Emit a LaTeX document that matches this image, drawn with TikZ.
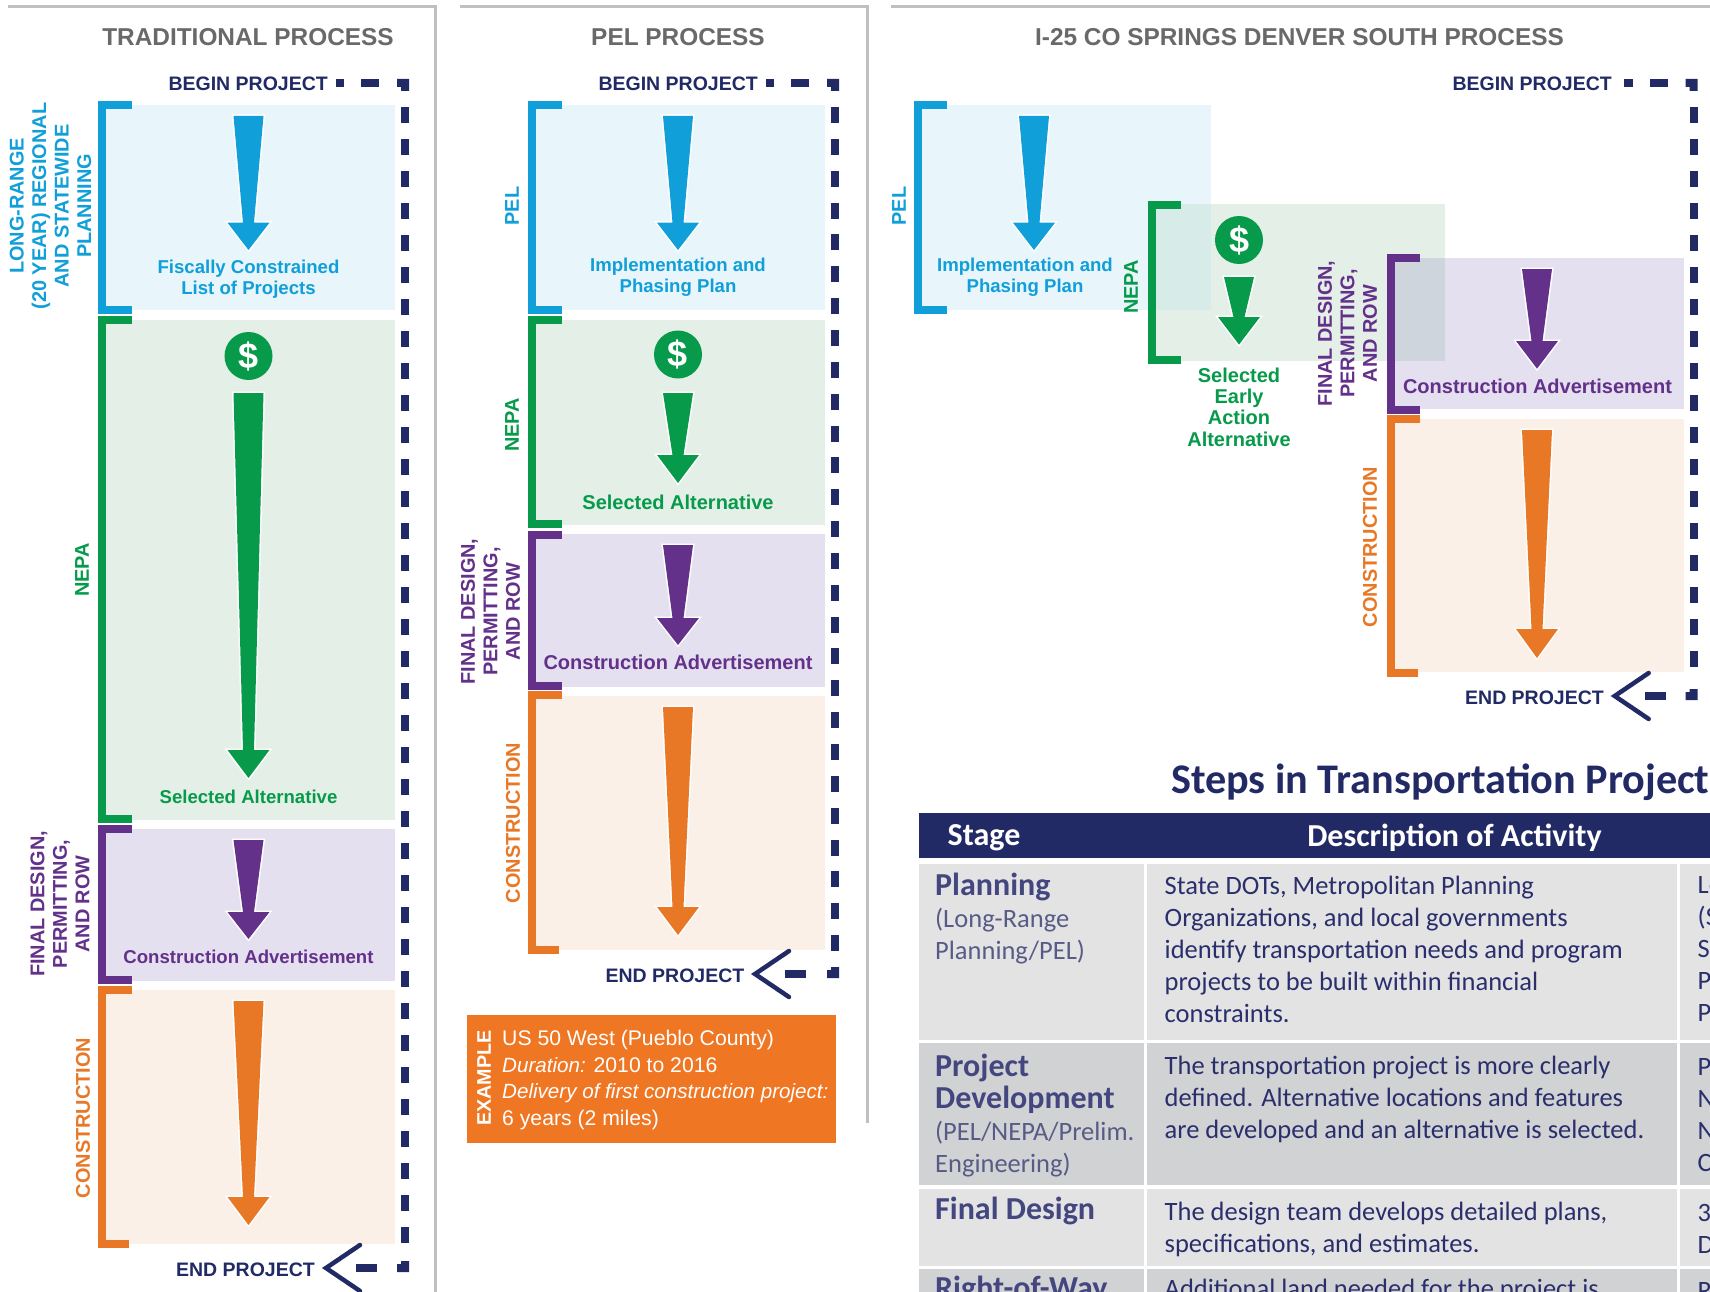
\documentclass[tikz,border=0pt]{standalone}
\usepackage{fontspec}
\setmainfont{Liberation Sans}
\newfontfamily\calib{Carlito}
\definecolor{cblue}{HTML}{109FD8}
\definecolor{cgreen}{HTML}{069A4A}
\definecolor{cpurple}{HTML}{63308A}
\definecolor{corange}{HTML}{E87826}
\definecolor{rblue}{HTML}{E8F5FB}
\definecolor{rgreen}{HTML}{E4F0E7}
\definecolor{rpurple}{HTML}{E4E0EF}
\definecolor{rorange}{HTML}{FAF0E7}
\definecolor{ovblue}{HTML}{D7ECE9}
\definecolor{ovpurple}{HTML}{CED5DD}
\definecolor{navy}{HTML}{222A66}
\definecolor{gtitle}{HTML}{696969}
\definecolor{gframe}{HTML}{C0C0C0}
\definecolor{boxor}{HTML}{EF7622}
\definecolor{rowa}{HTML}{E3E3E4}
\definecolor{rowb}{HTML}{D1D2D4}
\definecolor{ttitle}{HTML}{43467F}
\definecolor{tsub}{HTML}{585B86}
\definecolor{tbody}{HTML}{2A2F6C}
\tikzset{
  frameline/.style={gframe,line width=3},
  coltitle/.style={font=\bfseries\fontsize{24.4}{28}\selectfont,text=gtitle,inner sep=0},
  projlabel/.style={font=\bfseries\fontsize{19.5}{22}\selectfont,text=navy,inner sep=0},
  sidelabel/.style={font=\bfseries\fontsize{19.9}{22.5}\selectfont,rotate=90,align=center,inner sep=0},
  steplabel/.style={font=\bfseries\fontsize{18.6}{21.4}\selectfont,align=center,inner sep=0},
  steplabelwide/.style={font=\bfseries\fontsize{20}{21.4}\selectfont,align=center,inner sep=0},
  bracketline/.style={line width=8,miter limit=10},
  chevron/.style={navy,line width=4.5,line cap=round,miter limit=10},
  hdrtext/.style={font=\calib\bfseries\fontsize{32}{34}\selectfont,text=white,inner sep=0},
  stagename/.style={font=\calib\bfseries\fontsize{32}{32.5}\selectfont,text=ttitle,anchor=west,align=left,inner sep=0},
  stagesub/.style={font=\calib\fontsize{26.5}{32}\selectfont,text=tsub,anchor=west,align=left,inner sep=0},
  bodytext/.style={font=\calib\fontsize{26.5}{32}\selectfont,text=tbody,anchor=west,align=left,inner sep=0},
  boxtext/.style={font=\fontsize{21.2}{26.6}\selectfont,text=white,anchor=west,align=left,inner sep=0},
}
\newcommand{\boxital}[1]{{\fontsize{20.6}{26.6}\selectfont\itshape #1}}
% x1 y1 x2 y2 colour
\newcommand{\bandrect}[5]{\fill[#5] (#1,#2) rectangle (#3,#4);}
% x ytop ybot tabtop tabbot colour
\newcommand{\stagebracket}[6]{\draw[bracketline,#6] (#4,#2+4) -- (#1+4,#2+4) -- (#1+4,#3-4) -- (#5,#3-4);}
% x top base tip colour
\newcommand{\flowarrow}[5]{%
  \path[fill=#5,preaction={draw=white,line width=3,miter limit=10}]
   (#1-15,#2) -- (#1+15,#2) -- (#1+5.5,#3) -- (#1+21,#3) -- (#1,#4) -- (#1-21,#3) -- (#1-5.5,#3) -- cycle;}
% x y name
\newcommand{\dollarmark}[3]{\node[circle,fill=cgreen,minimum size=48,inner sep=0,text=white,font=\bfseries\fontsize{36}{36}\selectfont] (#3) at (#1,#2) {\$};}
% dx kmax period y
\newcommand{\projframe}[4]{%
  \fill[navy] (335.6+#1,79) rectangle (344+#1,87);
  \fill[navy] (361+#1,79) rectangle (379+#1,87);
  \fill[navy] (397+#1,79) -- (409+#1,79) -- (409+#1,91) -- (401+#1,91) -- (401+#1,87) -- (397+#1,87) -- cycle;
  \foreach \k in {0,...,#2} {\fill[navy] (401+#1,107+\k*#3) rectangle (409+#1,123+\k*#3);}
  \fill[navy] (401+#1,#4-7) -- (409+#1,#4-7) -- (409+#1,#4+4) -- (397+#1,#4+4) -- (397+#1,#4-4) -- (401+#1,#4-4) -- cycle;}
% tipx y name
\newcommand{\finishmark}[3]{%
  \coordinate (#3) at (#1+3,#2);
  \draw[chevron] (#1+37,#2-23) -- (#3) -- (#1+37,#2+23);
  \fill[navy] (#1+33,#2-4) rectangle (#1+54,#2+4);}
\begin{document}
\begin{tikzpicture}[x=1pt,y=-1pt]
\useasboundingbox (0,0) rectangle (1710,1292);
\clip (0,0) rectangle (1710,1292);
\fill[white] (0,0) rectangle (1710,1292);
% frames
\draw[frameline] (8,6.5) -- (435,6.5) -- (435,1292);
\draw[frameline] (460,6.5) -- (867,6.5) -- (867,1123);
\draw[frameline] (891,6.5) -- (1710,6.5);
% titles
\node[coltitle] (t1) at (248,37) {TRADITIONAL PROCESS};
\node[coltitle] (t2) at (678,37) {PEL PROCESS};
\node[coltitle] (t3) at (1299.5,37) {I-25 CO SPRINGS DENVER SOUTH PROCESS};
% ---------- column 1
\node[projlabel,anchor=east] (b1) at (328,83.5) {BEGIN PROJECT};
\projframe{0}{35}{32}{1268}
\bandrect{100}{105}{395}{310}{rblue}
\bandrect{100}{320}{395}{820}{rgreen}
\bandrect{100}{829}{395}{981}{rpurple}
\bandrect{100}{990}{395}{1244}{rorange}
\stagebracket{98.3}{101}{314}{131.7}{131.7}{cblue}
\stagebracket{98.3}{316}{823}{131.7}{131.7}{cgreen}
\stagebracket{98.3}{825}{984}{131.7}{131.7}{cpurple}
\stagebracket{98.3}{986}{1248}{131.7}{129}{corange}
\flowarrow{248.5}{116}{222.7}{250}{cblue}
\dollarmark{248.5}{356}{d1}
\flowarrow{248.5}{393}{750}{778}{cgreen}
\flowarrow{248.5}{840}{912}{939}{cpurple}
\flowarrow{248.5}{1001}{1197}{1225}{corange}
\node[steplabel,text=cblue] (s1a) at (248.5,279) {Fiscally Constrained\\List of Projects};
\node[steplabel,text=cgreen] (s1b) at (248.5,797) {Selected Alternative};
\node[steplabel,text=cpurple] (s1c) at (248.5,957) {Construction Advertisement};
\node[sidelabel,text=cblue] (l1a) at (50.5,206) {LONG-RANGE\\(20 YEAR) REGIONAL\\AND STATEWIDE\\PLANNING};
\node[sidelabel,text=cgreen] (l1b) at (82,570) {NEPA};
\node[sidelabel,text=cpurple] (l1c) at (60,904) {FINAL DESIGN,\\PERMITTING,\\AND ROW};
\node[sidelabel,text=corange] (l1d) at (83,1118) {CONSTRUCTION};
\node[projlabel] (e1) at (245.5,1270) {END PROJECT};
\finishmark{323}{1268}{c1}
% ---------- column 2
\node[projlabel,anchor=east] (b2) at (758,83.5) {BEGIN PROJECT};
\projframe{430}{26}{31.85}{974}
\bandrect{530}{105}{825}{310}{rblue}
\bandrect{530}{320}{825}{525}{rgreen}
\bandrect{530}{534}{825}{687}{rpurple}
\bandrect{530}{696}{825}{950}{rorange}
\stagebracket{528.3}{101}{314}{561.7}{561.7}{cblue}
\stagebracket{528.3}{316}{528}{561.7}{561.7}{cgreen}
\stagebracket{528.3}{531}{690}{561.7}{561.7}{cpurple}
\stagebracket{528.3}{691}{954}{561.7}{559}{corange}
\flowarrow{678}{116}{222.7}{250}{cblue}
\dollarmark{678}{354.5}{d2}
\flowarrow{678}{393}{455}{483}{cgreen}
\flowarrow{678}{545}{618}{645}{cpurple}
\flowarrow{678}{707}{907}{935}{corange}
\node[steplabel,text=cblue] (s2a) at (678,277) {Implementation and\\Phasing Plan};
\node[steplabelwide,text=cgreen] (s2b) at (678,502) {Selected Alternative};
\node[steplabelwide,text=cpurple] (s2c) at (678,662) {Construction Advertisement};
\node[sidelabel,text=cblue] (l2a) at (512,206) {PEL};
\node[sidelabel,text=cgreen] (l2b) at (512,425) {NEPA};
\node[sidelabel,text=cpurple] (l2c) at (490.5,611.5) {FINAL DESIGN,\\PERMITTING,\\AND ROW};
\node[sidelabel,text=corange] (l2d) at (513,823) {CONSTRUCTION};
\node[projlabel] (e2) at (675,976) {END PROJECT};
\finishmark{752}{974}{c2}
% example box
\node[fill=boxor,minimum width=369,minimum height=128,inner sep=0] (ex) at (651.5,1079) {};
\node[font=\bfseries\fontsize{19.7}{22}\selectfont,text=white,rotate=90,inner sep=0] (exl) at (484,1078) {EXAMPLE};
\node[boxtext] (ext) at (502,1080) {US 50 West (Pueblo County)\\\boxital{Duration:} 2010 to 2016\\\boxital{Delivery of first construction project:}\\6 years (2 miles)};
% ---------- column 3
\node[projlabel,anchor=east] (b3) at (1612,83.5) {BEGIN PROJECT};
\projframe{1288.5}{17}{32}{696}
\bandrect{918}{105}{1210.5}{310}{rblue}
\bandrect{1149}{204}{1445}{361}{rgreen}
\fill[ovblue] (1149,204) rectangle (1210.5,310);
\bandrect{1389}{258}{1683.7}{409}{rpurple}
\fill[ovpurple] (1389,258) rectangle (1445,361);
\bandrect{1389}{419}{1683.7}{672.4}{rorange}
\stagebracket{914}{101}{314}{947}{947}{cblue}
\stagebracket{1147.5}{200.7}{364}{1181}{1181}{cgreen}
\stagebracket{1387}{254}{413.5}{1420}{1420}{cpurple}
\stagebracket{1387}{415}{676.6}{1420}{1418}{corange}
\flowarrow{1034}{116}{222.7}{250}{cblue}
\dollarmark{1239}{240}{d3}
\flowarrow{1239}{277}{317}{344.6}{cgreen}
\flowarrow{1537}{269}{341}{368.7}{cpurple}
\flowarrow{1537}{430}{629}{658}{corange}
\node[steplabel,text=cblue] (s3a) at (1025,277) {Implementation and\\Phasing Plan};
\node[steplabelwide,text=cgreen] (s3b) at (1239,407) {Selected\\Early\\Action\\Alternative};
\node[steplabelwide,text=cpurple] (s3c) at (1537.5,386) {Construction Advertisement};
\node[sidelabel,text=cblue] (l3a) at (899,206) {PEL};
\node[sidelabel,text=cgreen] (l3b) at (1131,287) {NEPA};
\node[sidelabel,text=cpurple] (l3c) at (1347.5,333.5) {FINAL DESIGN,\\PERMITTING,\\AND ROW};
\node[sidelabel,text=corange] (l3d) at (1370,547) {CONSTRUCTION};
\node[projlabel] (e3) at (1534.5,698) {END PROJECT};
\finishmark{1611.7}{696}{c3}
% ---------- table
\node[font=\calib\bfseries\fontsize{42.2}{45}\selectfont,text=navy,anchor=west,inner sep=0] (tt) at (1171,782) {Steps in Transportation Project};
\fill[navy] (919,813) rectangle (1710,858);
\node[hdrtext,anchor=west] (h1) at (947.5,838) {Stage};
\node[hdrtext] (h2) at (1454.5,838) {Description of Activity};
\fill[rowa] (919,864) rectangle (1144,1040);
\fill[rowa] (1147,864) rectangle (1677,1040);
\fill[rowa] (1680,864) rectangle (1710,1040);
\fill[rowb] (919,1043) rectangle (1144,1185);
\fill[rowb] (1147,1043) rectangle (1677,1185);
\fill[rowb] (1680,1043) rectangle (1710,1185);
\fill[rowa] (919,1188.6) rectangle (1144,1266);
\fill[rowa] (1147,1188.6) rectangle (1677,1266);
\fill[rowa] (1680,1188.6) rectangle (1710,1266);
\fill[rowb] (919,1269) rectangle (1144,1292);
\fill[rowb] (1147,1269) rectangle (1677,1292);
\fill[rowb] (1680,1269) rectangle (1710,1292);
\node[stagename] (a1) at (935,887.4) {Planning};
\node[stagesub] (a2) at (935,936) {(Long-Range\\Planning/PEL)};
\node[stagename] (a3) at (935,1084) {Project\\Development};
\node[stagesub] (a4) at (935,1149) {(PEL/NEPA/Prelim.\\Engineering)};
\node[stagename] (a5) at (935,1211) {Final Design};
\node[stagename] (a6) at (935,1289.5) {Right-of-Way};
\node[bodytext] (b11) at (1164.5,949) {State DOTs, Metropolitan Planning\\Organizations, and local governments\\identify transportation needs and program\\projects to be built within financial\\constraints.};
\node[bodytext] (b12) at (1164.5,1099.5) {The transportation project is more clearly\\defined. Alternative locations and features\\are developed and an alternative is selected.};
\node[bodytext] (b13) at (1164.5,1229) {The design team develops detailed plans,\\specifications, and estimates.};
\node[bodytext] (b14) at (1164.5,1291) {Additional land needed for the project is};
\node[bodytext] (c11) at (1697.5,949) {Le\\(S\\S\\P\\P};
\node[bodytext] (c12) at (1697.5,1115.5) {P\\N\\N\\C};
\node[bodytext] (c13) at (1697.5,1229) {3\\D};
\node[bodytext] (c14) at (1697.5,1291) {R};
\end{tikzpicture}
\end{document}
